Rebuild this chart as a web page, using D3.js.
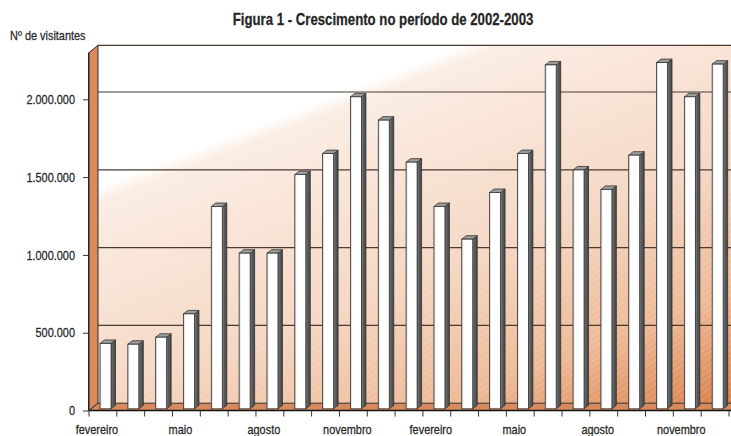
<!DOCTYPE html>
<html>
<head>
<meta charset="utf-8">
<script src="https://cdn.jsdelivr.net/npm/d3@7"></script>
<style>
body { margin: 0; background: #fff; }
svg { display: block; }
text { font-family: "Liberation Sans", Arial, sans-serif; fill: #262626; stroke: #262626; stroke-width: 0.25px; }
</style>
</head>
<body>
<div id="chart"></div>
<script>
// months from Feb 2002 to Dec 2003
const months = ["fevereiro", "março", "abril", "maio", "junho", "julho", "agosto", "setembro", "outubro", "novembro", "dezembro",
	"janeiro", "fevereiro", "março", "abril", "maio", "junho", "julho", "agosto", "setembro", "outubro", "novembro", "dezembro"]
const visitors = [420000, 415000, 460000, 610000, 1300000, 1000000, 1000000, 1505000, 1640000, 2005000, 1855000, 1585000,
	1300000, 1090000, 1390000, 1640000, 2210000, 1535000, 1410000, 1630000, 2225000, 2005000, 2215000]
const yTicks = [0, 500000, 1000000, 1500000, 2000000]
const labelEvery = 3

const width = 731, height = 436
// 3d depth of the walls
const depthX = 9, depthY = -7.3
// bar shape
const barOffset = 11, barWidth = 11, barDX = 4.5, barDY = -3.5, barLift = -1.7
// the original uses a condensed face, so squeeze the text sideways
const squeeze = 0.84

const locale = d3.formatLocale({ decimal: ",", thousands: ".", grouping: [3], currency: ["", ""] })
const fmt = locale.format(",d")

const x = d3.scaleBand()
	.domain(d3.range(months.length))
	.range([89, 729])
	.padding(0)

const y = d3.scaleLinear()
	.domain([0, 2300000])
	.range([410.5, 52.6])

const svg = d3.select("#chart")
	.append("svg")
	.attr("width", width)
	.attr("height", height)

const defs = svg.append("defs")

// wall shading: white corner top left, orange towards bottom right
const wallGrad = defs.append("linearGradient")
	.attr("id", "wall")
	.attr("gradientUnits", "userSpaceOnUse")
	.attr("x1", 44).attr("y1", 55).attr("x2", 251).attr("y2", 589)
wallGrad.selectAll("stop")
	.data([[0, "#ffffff"], [0.25, "#ffffff"], [0.275, "#fbede3"], [0.6, "#f5d7c3"], [0.82, "#eeba97"], [1, "#d9804a"]])
	.enter().append("stop")
	.attr("offset", (d) => d[0])
	.attr("stop-color", (d) => d[1])

const stripes = defs.append("pattern")
	.attr("id", "stripes")
	.attr("width", 5)
	.attr("height", 5)
	.attr("patternUnits", "userSpaceOnUse")
	.attr("patternTransform", "rotate(-35)")
stripes.append("line")
	.attr("x1", 0).attr("y1", 0).attr("x2", 5).attr("y2", 0)
	.attr("stroke", "#ffffff")
	.attr("stroke-opacity", 0.25)
	.attr("stroke-width", 1.2)

const frontGrad = defs.append("linearGradient").attr("id", "front")
frontGrad.selectAll("stop")
	.data([[0, "#c8c8c8"], [0.18, "#ffffff"], [1, "#ffffff"]])
	.enter().append("stop")
	.attr("offset", (d) => d[0])
	.attr("stop-color", (d) => d[1])

const sideGrad = defs.append("linearGradient").attr("id", "side")
sideGrad.selectAll("stop")
	.data([[0, "#8a8a8a"], [0.4, "#5c5c5c"], [1, "#454545"]])
	.enter().append("stop")
	.attr("offset", (d) => d[0])
	.attr("stop-color", (d) => d[1])

const x0 = x.range()[0], x1 = width
const yTop = y.range()[1], y0 = y(0)

// back wall
svg.append("rect")
	.attr("x", x0 + depthX)
	.attr("y", yTop + depthY)
	.attr("width", x1 - x0 - depthX)
	.attr("height", y0 - yTop)
	.attr("fill", "url(#wall)")
svg.append("rect")
	.attr("x", x0 + depthX)
	.attr("y", yTop + depthY)
	.attr("width", x1 - x0 - depthX)
	.attr("height", y0 - yTop)
	.attr("fill", "url(#stripes)")

// gridlines on the back wall
svg.append("g")
	.selectAll("line")
	.data(yTicks.slice(1).concat([y.domain()[1]]))
	.enter()
	.append("line")
	.attr("x1", x0 + depthX)
	.attr("x2", x1)
	.attr("y1", (d) => y(d) + depthY)
	.attr("y2", (d) => y(d) + depthY)
	.attr("stroke", "#4a3a32")
	.attr("stroke-width", 1.2)

// left wall
svg.append("polygon")
	.attr("points", [[x0, yTop], [x0 + depthX, yTop + depthY], [x0 + depthX, y0 + depthY], [x0, y0]].join(" "))
	.attr("fill", "#d98a5c")
	.attr("stroke", "#2e2e2e")
	.attr("stroke-width", 1)

// floor
svg.append("polygon")
	.attr("points", [[x0, y0], [x0 + depthX, y0 + depthY], [x1 + 10, y0 + depthY], [x1 + 10, y0]].join(" "))
	.attr("fill", "#d98a5c")
	.attr("stroke", "#2e2e2e")
	.attr("stroke-width", 1)

// bars
const bars = svg.append("g")
	.selectAll("g")
	.data(visitors)
	.enter()
	.append("g")

bars.append("polygon")
	.attr("points", (d, i) => {
		const bx = x(i) + barOffset + barWidth, ty = y(d) + barLift, by = y(0) + barLift
		return [[bx, ty], [bx + barDX, ty + barDY], [bx + barDX, by + barDY], [bx, by]].join(" ")
	})
	.attr("fill", "url(#side)")
	.attr("stroke", "#333")
	.attr("stroke-width", 0.8)

bars.append("polygon")
	.attr("points", (d, i) => {
		const bx = x(i) + barOffset, ty = y(d) + barLift
		return [[bx, ty], [bx + barDX, ty + barDY], [bx + barWidth + barDX, ty + barDY], [bx + barWidth, ty]].join(" ")
	})
	.attr("fill", "#9c9c9c")
	.attr("stroke", "#333")
	.attr("stroke-width", 0.8)

bars.append("rect")
	.attr("x", (d, i) => x(i) + barOffset)
	.attr("y", (d) => y(d) + barLift)
	.attr("width", barWidth)
	.attr("height", (d) => y(0) - y(d))
	.attr("fill", "url(#front)")
	.attr("stroke", "#333")
	.attr("stroke-width", 0.8)

// y axis
const yAxis = svg.append("g")
	.attr("transform", `translate(${x0},0)`)
	.call(d3.axisLeft(y).tickValues(yTicks).tickFormat(fmt).tickSize(6).tickPadding(8))
yAxis.select(".domain").attr("stroke", "#222").attr("d", `M-0.5,${y0}V${yTop}`)
yAxis.selectAll(".tick line").attr("stroke", "#333")
yAxis.selectAll("text")
	.attr("font-size", 13)
	.attr("font-family", null)
	.attr("fill", null)
	.attr("x", -14 / squeeze)
	.attr("transform", `scale(${squeeze},1)`)

// x axis
const xAxis = svg.append("g")
	.attr("transform", `translate(0,${y0})`)
xAxis.append("line")
	.attr("x1", x0).attr("x2", x1)
	.attr("y1", 0).attr("y2", 0)
	.attr("stroke", "#111")
	.attr("stroke-width", 1.3)
xAxis.selectAll(".tk")
	.data(d3.range(months.length + 1))
	.enter()
	.append("line")
	.attr("class", "tk")
	.attr("x1", (d) => x0 + d * x.bandwidth())
	.attr("x2", (d) => x0 + d * x.bandwidth())
	.attr("y1", 0)
	.attr("y2", 6)
	.attr("stroke", "#333")
xAxis.selectAll("text")
	.data(months.map((m, i) => [m, i]).filter((d) => d[1] % labelEvery === 0))
	.enter()
	.append("text")
	.attr("transform", (d) => `translate(${x(d[1]) + x.bandwidth() / 2 - 6},23.5) scale(${squeeze},1)`)
	.attr("text-anchor", "middle")
	.attr("font-size", 13)
	.text((d) => d[0])

// titles
svg.append("text")
	.attr("transform", "translate(383,25) scale(0.8,1)")
	.attr("text-anchor", "middle")
	.attr("font-size", 16.5)
	.attr("font-weight", "bold")
	.text("Figura 1 - Crescimento no período de 2002-2003")

svg.append("text")
	.attr("transform", `translate(10,40) scale(${squeeze},1)`)
	.attr("font-size", 13)
	.text("Nº de visitantes")
</script>
</body>
</html>
